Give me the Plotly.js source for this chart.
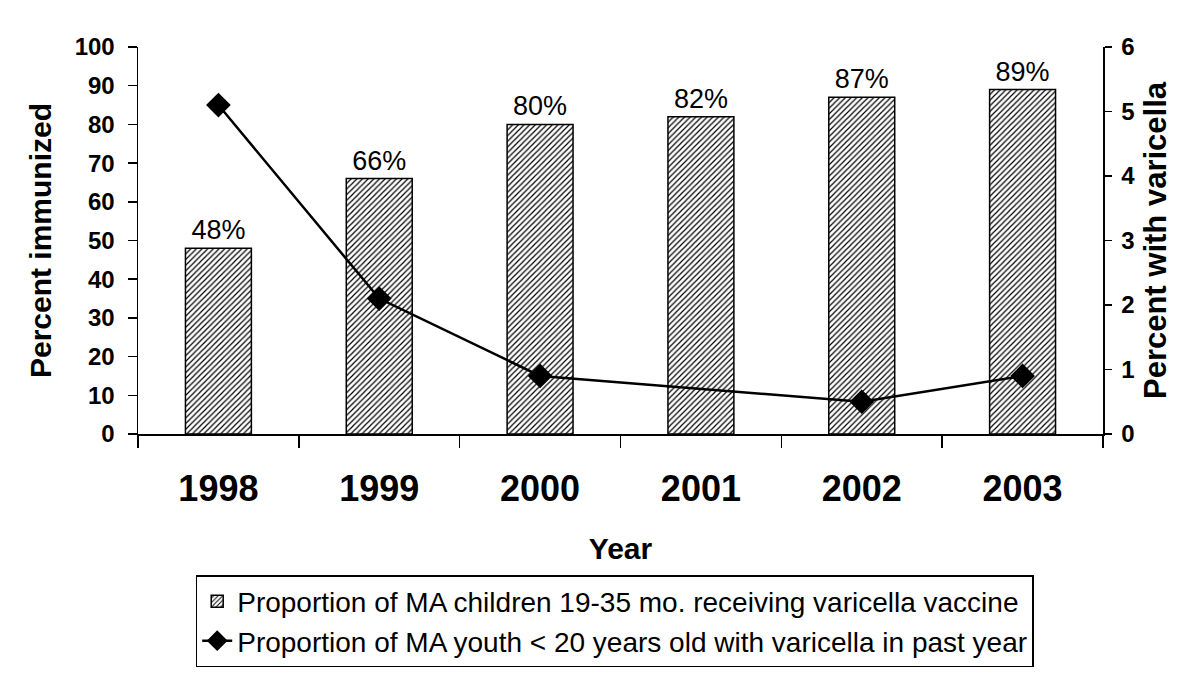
<!DOCTYPE html>
<html>
<head>
<meta charset="utf-8">
<script src="https://cdn.plot.ly/plotly-3.0.1.min.js"></script>
<style>html,body{margin:0;padding:0;background:#fff;}#chart{width:1200px;height:675px;}</style>
</head>
<body>
<div id="chart"></div>
<script>
const years = ['1998', '1999', '2000', '2001', '2002', '2003'];
const immunized = [48, 66, 80, 82, 87, 89];
const varicella = [5.1, 2.1, 0.9, null, 0.5, 0.9];
const barName = 'Proportion of MA children 19-35 mo. receiving varicella vaccine';
const lineName = 'Proportion of MA youth < 20 years old with varicella in past year';

const font = 'Liberation Sans, Arial, sans-serif';

const traces = [
  {
    type: 'bar', x: years, y: immunized, name: barName,
    width: 0.41,
    marker: {color: '#ffffff', line: {color: '#000', width: 1.5},
      pattern: {shape: '/', fgcolor: '#000', bgcolor: '#fff', size: 4, solidity: 0.3}},
    text: immunized.map(v => v + '%'), textposition: 'outside',
    textfont: {family: font, size: 27, color: '#000'},
    cliponaxis: false
  },
  {
    type: 'scatter', mode: 'lines+markers', x: years, y: varicella, name: lineName,
    yaxis: 'y2', connectgaps: true,
    line: {color: '#000', width: 2.5},
    marker: {symbol: 'diamond', size: 19, color: '#000'}
  }
];

const layout = {
  width: 1200, height: 675,
  margin: {l: 138, r: 97, t: 47, b: 241},
  paper_bgcolor: '#fff', plot_bgcolor: '#fff',
  font: {family: font, color: '#000'},
  showlegend: true,
  legend: {x: 0.494, xanchor: 'center', xref: 'paper', y: 0.148, yanchor: 'top', yref: 'container',
    orientation: 'v',
    bordercolor: '#000', borderwidth: 1.5, font: {family: font, size: 28, color: '#000'},
    tracegroupgap: 0},
  xaxis: {
    type: 'category', automargin: false, showline: true, linecolor: '#000', linewidth: 1.5,
    ticks: 'outside', ticklen: 12, tickwidth: 1.5, tickcolor: '#000', tickson: 'boundaries',
    ticklabelstandoff: 22,
    tickfont: {family: font, size: 36, color: '#000', weight: 'bold'},
    title: {text: '<b>Year</b>', font: {family: font, size: 30, color: '#000'}, standoff: 30},
    showgrid: false, zeroline: false
  },
  yaxis: {
    range: [0, 100], dtick: 10, automargin: false, showline: true, linecolor: '#000', linewidth: 1.5,
    ticks: 'outside', ticklen: 9, tickwidth: 1.5, tickcolor: '#000',
    ticklabelstandoff: 8,
    tickfont: {family: font, size: 24, color: '#000', weight: 'bold'},
    title: {text: '<b>Percent immunized</b>', font: {family: font, size: 30, color: '#000'}, standoff: 14},
    showgrid: false, zeroline: false
  },
  yaxis3: {
    overlaying: 'y', side: 'left', range: [0, 100], dtick: 10, automargin: false, showline: false,
    ticks: 'inside', ticklen: 9, tickwidth: 1.5, tickcolor: '#000',
    showticklabels: false, showgrid: false, zeroline: false
  },
  yaxis2: {
    overlaying: 'y', side: 'right', range: [0, 6], dtick: 1, automargin: false,
    showline: true, linecolor: '#000', linewidth: 1.5,
    ticks: 'outside', ticklen: 7, tickwidth: 1.5, tickcolor: '#000',
    ticklabelstandoff: 5,
    tickfont: {family: font, size: 24, color: '#000', weight: 'bold'},
    title: {text: '<b>Percent with varicella</b>', font: {family: font, size: 31, color: '#000'}, standoff: 10},
    showgrid: false, zeroline: false
  }
};

Plotly.newPlot('chart', traces, layout, {displayModeBar: false, staticPlot: true});
</script>
</body>
</html>
